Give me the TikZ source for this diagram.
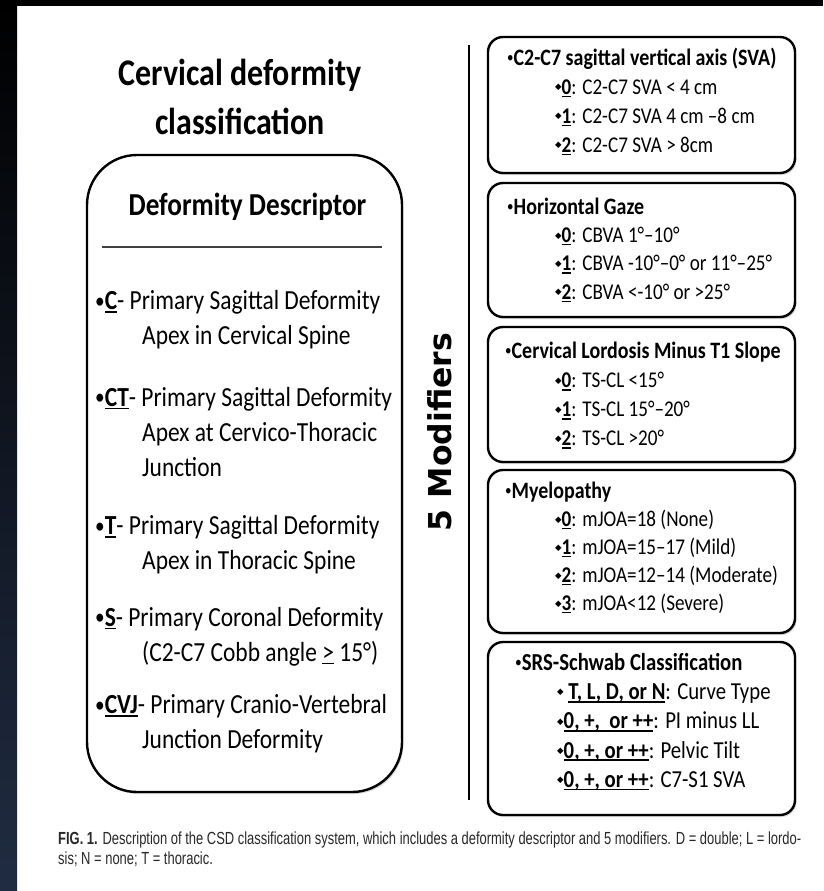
\documentclass[tikz,border=0pt]{standalone}
\usepackage{fontspec}
\setmainfont{Carlito}[FakeStretch=0.85]
\newfontfamily\symfont{DejaVu Sans}
\newfontfamily\capfont[FakeStretch=0.74]{Liberation Sans}
\usetikzlibrary{shadows}

\newcommand\keyline[1]{\sbox0{#1}\rlap{\rule[-2.8pt]{\wd0}{1.5pt}}\usebox0}
\newcommand\dmd{\raisebox{.2em}{\symfont\fontsize{8.5}{8.5}\selectfont ◆}}
\newcommand\hbul{\raisebox{.13em}{\scalebox{.65}{\mdseries •}}}
\newcommand\lbul{\raisebox{.06em}{\scalebox{.82}{•}}}
\newcommand\headfont{\bfseries\fontsize{23.5}{29}\selectfont}

\definecolor{navyband}{RGB}{32,44,66}
\definecolor{captext}{RGB}{40,40,40}

\tikzset{
  modbox/.style={draw=black,fill=white,line width=2.4pt,rounded corners=15pt,minimum width=307pt,inner sep=0pt,
    drop shadow={shadow xshift=1.5pt,shadow yshift=-2pt,opacity=.3}},
  modtext/.style={anchor=west,align=left,inner sep=0pt,font=\fontsize{22.5}{29}\selectfont},
  descitem/.style={anchor=west,align=left,inner sep=0pt,font=\fontsize{27.6}{35}\selectfont}
}

\begin{document}
\begin{tikzpicture}[x=1pt,y=-1pt]
\useasboundingbox (0,0) rectangle (823,891);
\fill[white] (0,0) rectangle (823,891);
\shade[top color=black,bottom color=navyband] (0,0) rectangle (17,891);
\fill[black] (0,0) rectangle (823,6);

% left column
\node[font=\bfseries\fontsize{37.6}{49}\selectfont,align=center,inner sep=0pt] (title) at (240,96.5) {Cervical deformity\\classification};
\node[draw=black,fill=white,line width=2.4pt,rounded corners=50pt,minimum width=315pt,minimum height=637pt,
  drop shadow={shadow xshift=1.5pt,shadow yshift=-2pt,opacity=.3}] (desc) at (244.5,473.5) {};
\node[font=\bfseries\fontsize{32}{30}\selectfont,inner sep=0pt] (deschead) at (247.5,207) {Deformity Descriptor};
\draw[line width=2pt,black!75] (102,247) -- (382,247);
\node[descitem] (itemc) at (95,320) {\lbul\textbf{\keyline{C}}- Primary Sagittal Deformity\\\hspace*{47pt}Apex in Cervical Spine};
\node[descitem] (itemct) at (95,432) {\lbul\textbf{\keyline{CT}}- Primary Sagittal Deformity\\\hspace*{47pt}Apex at Cervico-Thoracic\\\hspace*{47pt}Junction};
\node[descitem] (itemt) at (95,545) {\lbul\textbf{\keyline{T}}- Primary Sagittal Deformity\\\hspace*{47pt}Apex in Thoracic Spine};
\node[descitem] (items) at (95,636.5) {\lbul\textbf{\keyline{S}}- Primary Coronal Deformity\\\hspace*{47pt}(C2-C7 Cobb angle \keyline{>} 15°)};
\node[descitem] (itemcvj) at (95,724) {\lbul\textbf{\keyline{CVJ}}- Primary Cranio-Vertebral\\\hspace*{47pt}Junction Deformity};

% divider and label
\draw[line width=2pt] (469,45) -- (469,800);
\node[rotate=90,font=\symfont\bfseries\fontsize{31.5}{32}\selectfont,inner sep=0pt] (modlabel) at (440,432) {5 Modifiers};

% modifier boxes
\node[modbox,minimum height=136pt] (sva) at (641.5,105) {};
\node[modtext] (svatxt) at (507,101.5) {{\headfont\hbul C2-C7 sagittal vertical axis (SVA)}\\
  \hspace*{48pt}\dmd\textbf{\keyline{0}}: C2-C7 SVA < 4 cm\\
  \hspace*{48pt}\dmd\textbf{\keyline{1}}: C2-C7 SVA 4 cm –8 cm\\
  \hspace*{48pt}\dmd\textbf{\keyline{2}}: C2-C7 SVA > 8cm};

\node[modbox,minimum height=134pt] (gaze) at (641.5,250) {};
\node[modtext,font=\fontsize{22.5}{28.3}\selectfont] (gazetxt) at (507,250) {{\headfont\hbul Horizontal Gaze}\\
  \hspace*{48pt}\dmd\textbf{\keyline{0}}: CBVA 1°–10°\\
  \hspace*{48pt}\dmd\textbf{\keyline{1}}: CBVA -10°–0° or 11°–25°\\
  \hspace*{48pt}\dmd\textbf{\keyline{2}}: CBVA <-10° or >25°};

\node[modbox,minimum height=135pt] (lordosis) at (641.5,394.5) {};
\node[modtext] (lordosistxt) at (505,395.5) {{\headfont\hbul Cervical Lordosis Minus T1 Slope}\\
  \hspace*{50pt}\dmd\textbf{\keyline{0}}: TS-CL <15°\\
  \hspace*{50pt}\dmd\textbf{\keyline{1}}: TS-CL 15°–20°\\
  \hspace*{50pt}\dmd\textbf{\keyline{2}}: TS-CL >20°};

\node[modbox,minimum height=163pt] (myelo) at (641.5,551.5) {};
\node[modtext,font=\fontsize{22.5}{28}\selectfont] (myelotxt) at (505,548) {{\headfont\hbul Myelopathy}\\
  \hspace*{50pt}\dmd\textbf{\keyline{0}}: mJOA=18 (None)\\
  \hspace*{50pt}\dmd\textbf{\keyline{1}}: mJOA=15–17 (Mild)\\
  \hspace*{50pt}\dmd\textbf{\keyline{2}}: mJOA=12–14 (Moderate)\\
  \hspace*{50pt}\dmd\textbf{\keyline{3}}: mJOA<12 (Severe)};

\node[modbox,minimum height=173pt] (srs) at (641.5,728.5) {};
\node[modtext,font=\fontsize{24.4}{29.2}\selectfont] (srstxt) at (515,722) {{\bfseries\hbul SRS-Schwab Classification}\\
  \hspace*{42pt}\dmd\ \textbf{\keyline{T, L, D, or N}}: Curve Type\\
  \hspace*{42pt}\dmd\textbf{\keyline{0, +,\ \ or ++}}: PI minus LL\\
  \hspace*{42pt}\dmd\textbf{\keyline{0, +, or ++}}: Pelvic Tilt\\
  \hspace*{42pt}\dmd\textbf{\keyline{0, +, or ++}}: C7-S1 SVA};

% caption
\node[anchor=west,align=left,inner sep=0pt,font=\capfont\fontsize{17.5}{20}\selectfont,text=captext] (caption) at (58,849)
  {\textbf{FIG. 1.} Description of the CSD classification system, which includes a deformity descriptor and 5 modifiers. D = double; L = lordo-\\sis; N = none; T = thoracic.};
\end{tikzpicture}
\end{document}
